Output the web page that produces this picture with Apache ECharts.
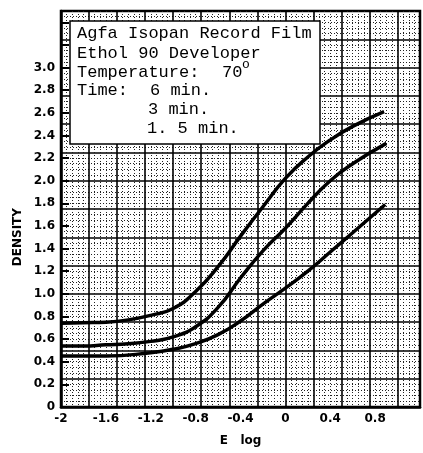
<!DOCTYPE html>
<html>
<head>
<meta charset="utf-8">
<script src="https://cdn.jsdelivr.net/npm/echarts@6/dist/echarts.min.js"></script>
<style>
  html, body { margin: 0; padding: 0; background: #fff; }
  #chart { width: 423px; height: 453px; }
</style>
</head>
<body>
<div id="chart"></div>
<script>
// log exposure vs density
const eLog6 = [-2, -1.8, -1.6, -1.4, -1.2, -1.0, -0.8, -0.6, -0.4, -0.2, 0, 0.2, 0.4, 0.6, 0.88];
const density6 = [0.74, 0.745, 0.75, 0.77, 0.81, 0.87, 1.02, 1.24, 1.51, 1.77, 2.02, 2.21, 2.36, 2.48, 2.61];
const eLog3 = [-2, -1.8, -1.6, -1.4, -1.2, -1.0, -0.8, -0.6, -0.4, -0.2, 0, 0.2, 0.4, 0.6, 0.9];
const density3 = [0.54, 0.54, 0.55, 0.56, 0.58, 0.62, 0.71, 0.88, 1.14, 1.38, 1.58, 1.8, 2.0, 2.15, 2.33];
const eLog15 = [-2, -1.6, -1.2, -1.0, -0.8, -0.6, -0.4, -0.2, 0, 0.2, 0.4, 0.6, 0.89];
const density15 = [0.45, 0.45, 0.48, 0.51, 0.56, 0.64, 0.76, 0.91, 1.05, 1.2, 1.37, 1.54, 1.79];

const boxLines = ['Agfa Isopan Record Film', 'Ethol 90 Developer'];

const pairs = (xs, ys) => xs.map((x, i) => [x, ys[i]]);
const labelFont = { color: '#000', fontFamily: 'DejaVu Sans', fontWeight: 'bold', fontSize: 12 };
const boxFont = { fill: '#000', fontFamily: 'Liberation Mono', fontSize: 17 };

const chart = echarts.init(document.getElementById('chart'));

const curve = (data) => ({
    type: 'line', xAxisIndex: 0, yAxisIndex: 0, data, smooth: 0.5, showSymbol: false,
    lineStyle: { color: '#000', width: 3.5 }, z: 5
});

chart.setOption({
    backgroundColor: '#fff',
    animation: false,
    grid: { left: 61, top: 11, width: 365, height: 396, show: true, borderColor: '#000', borderWidth: 2.5 },
    xAxis: [
        {
            type: 'value', min: -2, max: 1.2, interval: 0.4,
            axisLine: { show: true, onZero: false, lineStyle: { color: '#000', width: 2.5 } },
            axisTick: { show: false },
            axisLabel: { ...labelFont, margin: 6, formatter: v => (v > 0.85 ? '' : String(+v.toFixed(1))) },
            splitLine: { show: false },
            name: 'E   log', nameLocation: 'middle', nameGap: 28,
            nameTextStyle: { ...labelFont, fontSize: 12 }
        },
        {
            type: 'value', min: -2, max: 1.2, interval: 0.25,
            axisLine: { show: false, onZero: false }, axisTick: { show: false }, axisLabel: { show: false },
            splitLine: { show: true, lineStyle: { color: '#000', width: 1.6 } },
            minorTick: { show: false, splitNumber: 5 },
            minorSplitLine: { show: true, lineStyle: { color: '#222', width: 1, type: [1, 2] } }
        }
    ],
    yAxis: [
        {
            type: 'value', min: 0, max: 3.5, interval: 0.2,
            axisLine: { show: true, onZero: false, lineStyle: { color: '#000', width: 2.5 } },
            axisTick: { show: true, inside: true, length: 8, lineStyle: { color: '#000', width: 2 } },
            axisLabel: { ...labelFont, margin: 6, formatter: v => (v > 3.05 ? '' : (v === 0 ? '0' : v.toFixed(1))) },
            splitLine: { show: false }
        },
        {
            type: 'value', min: 0, max: 3.5, interval: 0.25,
            axisLine: { show: false, onZero: false }, axisTick: { show: false }, axisLabel: { show: false },
            splitLine: { show: true, lineStyle: { color: '#000', width: 1.6 } },
            minorTick: { show: false, splitNumber: 5 },
            minorSplitLine: { show: true, lineStyle: { color: '#222', width: 1, type: [1, 2] } }
        }
    ],
    series: [
        { type: 'line', xAxisIndex: 1, yAxisIndex: 1, data: [] },
        curve(pairs(eLog6, density6)),
        curve(pairs(eLog3, density3)),
        curve(pairs(eLog15, density15))
    ],
    graphic: [
        {
            type: 'text', left: 12, top: 208, rotation: Math.PI / 2,
            style: { text: 'DENSITY', fill: '#000', font: 'bold 12px "DejaVu Sans"' }
        },
        {
            type: 'rect', shape: { x: 70, y: 21, width: 250, height: 123 }, z: 10,
            style: { fill: '#fff', stroke: '#000', lineWidth: 1.5 }
        },
        { type: 'text', x: 77, y: 33, z: 11, style: { ...boxFont, text: boxLines[0], verticalAlign: 'middle' } },
        { type: 'text', x: 77, y: 53, z: 11, style: { ...boxFont, text: boxLines[1], verticalAlign: 'middle' } },
        { type: 'text', x: 77, y: 72, z: 11, style: { ...boxFont, text: 'Temperature:', verticalAlign: 'middle' } },
        { type: 'text', x: 222, y: 72, z: 11, style: { ...boxFont, text: '70', verticalAlign: 'middle' } },
        { type: 'text', x: 242, y: 65, z: 11, style: { ...boxFont, fontSize: 13, text: 'o', verticalAlign: 'middle' } },
        { type: 'text', x: 77, y: 90, z: 11, style: { ...boxFont, text: 'Time:', verticalAlign: 'middle' } },
        { type: 'text', x: 150, y: 90, z: 11, style: { ...boxFont, text: '6 min.', verticalAlign: 'middle' } },
        { type: 'text', x: 148, y: 109, z: 11, style: { ...boxFont, text: '3 min.', verticalAlign: 'middle' } },
        { type: 'text', x: 147, y: 128, z: 11, style: { ...boxFont, text: '1. 5 min.', verticalAlign: 'middle' } }
    ]
});
</script>
</body>
</html>
